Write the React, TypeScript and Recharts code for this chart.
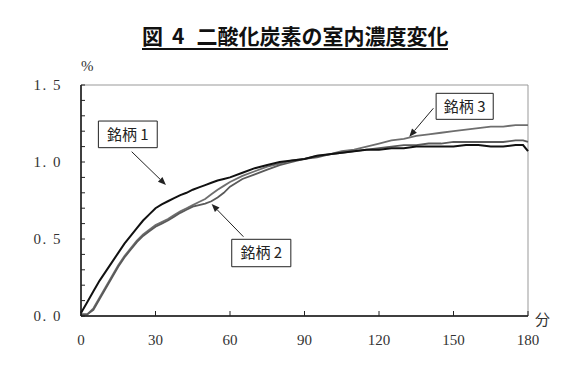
import React from 'react';
import { LineChart, Line, XAxis, YAxis, ReferenceArea, ReferenceLine } from 'recharts';

// elapsed time (min) and CO2 concentration (%)
const minutes = [
  0, 2.5, 5, 7.5, 10, 12.5, 15, 17.5, 20, 22.5, 25, 27.5, 30, 32.5, 35, 37.5,
  40, 42.5, 45, 47.5, 50, 52.5, 55, 57.5, 60, 65, 70, 75, 80, 85, 90, 95, 100,
  105, 110, 115, 120, 125, 130, 135, 140, 145, 150, 155, 160, 165, 170, 175,
  178, 180,
];
const brand1 = [
  0.02, 0.09, 0.16, 0.23, 0.29, 0.35, 0.41, 0.47, 0.52, 0.57, 0.62, 0.66, 0.7,
  0.725, 0.745, 0.765, 0.785, 0.8, 0.82, 0.835, 0.85, 0.865, 0.88, 0.89, 0.9,
  0.93, 0.96, 0.98, 1.0, 1.01, 1.02, 1.04, 1.05, 1.06, 1.07, 1.08, 1.08, 1.09,
  1.09, 1.1, 1.1, 1.1, 1.1, 1.11, 1.11, 1.1, 1.1, 1.11, 1.11, 1.07,
];
const brand2 = [
  0.01, 0.01, 0.04, 0.11, 0.18, 0.25, 0.32, 0.38, 0.43, 0.48, 0.52, 0.55, 0.58,
  0.6, 0.62, 0.645, 0.67, 0.69, 0.71, 0.72, 0.73, 0.745, 0.77, 0.8, 0.84, 0.89,
  0.92, 0.95, 0.98, 1.0, 1.02, 1.03, 1.05, 1.06, 1.07, 1.08, 1.09, 1.1, 1.11,
  1.11, 1.12, 1.12, 1.13, 1.13, 1.13, 1.13, 1.13, 1.14, 1.14, 1.13,
];
const brand3 = [
  0.01, 0.01, 0.05, 0.12, 0.19, 0.26, 0.33, 0.39, 0.44, 0.49, 0.53, 0.56, 0.59,
  0.61, 0.63, 0.655, 0.68, 0.7, 0.72, 0.74, 0.76, 0.79, 0.82, 0.845, 0.87, 0.91,
  0.94, 0.97, 0.99, 1.01, 1.02, 1.04, 1.05, 1.07, 1.08, 1.1, 1.12, 1.14, 1.15,
  1.17, 1.18, 1.19, 1.2, 1.21, 1.22, 1.23, 1.23, 1.24, 1.24, 1.24,
];

const xTicks = [0, 30, 60, 90, 120, 150, 180];
const yTicks = [0, 0.1, 0.2, 0.3, 0.4, 0.5, 0.6, 0.7, 0.8, 0.9, 1.0, 1.1, 1.2, 1.3, 1.4, 1.5];

// callout boxes and arrows, in data units
const labelBoxes = [
  { text: '銘柄 1', x1: 7.0, x2: 30.7, y1: 1.093, y2: 1.266 },
  { text: '銘柄 2', x1: 60.7, x2: 84.5, y1: 0.32, y2: 0.498 },
  { text: '銘柄 3', x1: 143.0, x2: 166.0, y1: 1.277, y2: 1.446 },
];
const arrows = [
  { from: { x: 20.4, y: 1.067 }, to: { x: 34.2, y: 0.851 } },
  { from: { x: 65.4, y: 0.515 }, to: { x: 52.6, y: 0.727 } },
  { from: { x: 141.9, y: 1.349 }, to: { x: 132.2, y: 1.164 } },
];

const data = minutes.map((t, i) => ({ t, b1: brand1[i], b2: brand2[i], b3: brand3[i] }));

const serif = '"Liberation Serif", "DejaVu Serif", serif';
const jp = '"Noto Sans CJK JP", sans-serif';

function YTick(props: any) {
  const { x, y, payload } = props;
  const v = payload.value;
  const major = Math.abs(v * 2 - Math.round(v * 2)) < 1e-6;
  return (
    <g>
      <line x1={x} y1={y} x2={x + 4} y2={y} stroke="#222" strokeWidth={1} />
      {major && (
        <text x={x - 19} y={y} dy={5} textAnchor="end" fontFamily={serif} fontSize={15}
          letterSpacing={1.5} fill="#333">
          {v.toFixed(1).replace('.', '. ')}
        </text>
      )}
    </g>
  );
}

function XTick(props: any) {
  const { x, y, payload } = props;
  return (
    <g>
      <line x1={x} y1={y} x2={x} y2={y - 5} stroke="#222" strokeWidth={1} />
      <text x={x} y={y + 29} textAnchor="middle" fontFamily={serif} fontSize={15} fill="#333">
        {payload.value}
      </text>
    </g>
  );
}

function Arrow(props: any) {
  const { x1, y1, x2, y2 } = props;
  const a = Math.atan2(y2 - y1, x2 - x1);
  const len = 8;
  const w = 3.2;
  const bx = x2 - len * Math.cos(a);
  const by = y2 - len * Math.sin(a);
  const px = -Math.sin(a) * w;
  const py = Math.cos(a) * w;
  return (
    <g>
      <line x1={x1} y1={y1} x2={bx} y2={by} stroke="#222" strokeWidth={1} />
      <polygon points={`${x2},${y2} ${bx + px},${by + py} ${bx - px},${by - py}`} fill="#222" />
    </g>
  );
}

export default function App() {
  return (
    <div style={{ position: 'absolute', left: 0, top: 0, width: 582, height: 371, background: '#fff' }}>
      <div
        style={{
          position: 'absolute', left: 142, top: 25, fontFamily: jp, fontWeight: 700,
          fontSize: 21, lineHeight: '21px', color: '#111', whiteSpace: 'nowrap',
          borderBottom: '2px solid #111', paddingBottom: 2,
        }}
      >
        <span>図</span>
        <span style={{ marginLeft: 9 }}>4</span>
        <span style={{ marginLeft: 12 }}>二酸化炭素の室内濃度変化</span>
      </div>
      <div style={{ position: 'absolute', left: 81, top: 58, fontFamily: serif, fontSize: 15, color: '#333' }}>%</div>
      <div style={{ position: 'absolute', left: 535, top: 308, fontFamily: jp, fontSize: 15, color: '#333' }}>分</div>
      <LineChart width={582} height={371} data={data} margin={{ top: 85, right: 54, bottom: 0, left: 0 }}>
        <ReferenceArea x1={0} x2={180} y1={0} y2={1.5} fill="none" stroke="#999" strokeWidth={1} />
        <XAxis
          dataKey="t" type="number" domain={[0, 180]} ticks={xTicks} interval={0}
          height={55} tickSize={0} tickMargin={0} tickLine={false}
          axisLine={{ stroke: '#111', strokeWidth: 1.5 }} tick={<XTick />}
        />
        <YAxis
          type="number" domain={[0, 1.5]} ticks={yTicks} interval={0}
          width={81} tickSize={0} tickMargin={0} tickLine={false}
          axisLine={{ stroke: '#111', strokeWidth: 1.5 }} tick={<YTick />}
        />
        <Line type="linear" dataKey="b3" stroke="#6e6e6e" strokeWidth={1.8} dot={false} isAnimationActive={false} />
        <Line type="linear" dataKey="b2" stroke="#5a5a5a" strokeWidth={1.8} dot={false} isAnimationActive={false} />
        <Line type="linear" dataKey="b1" stroke="#111" strokeWidth={2} dot={false} isAnimationActive={false} />
        {arrows.map((a, i) => (
          <ReferenceLine key={'a' + i} segment={[a.from, a.to]} shape={<Arrow />} />
        ))}
        {labelBoxes.map((b) => (
          <ReferenceArea
            key={b.text} x1={b.x1} x2={b.x2} y1={b.y1} y2={b.y2}
            fill="#fff" fillOpacity={1} stroke="#222" strokeWidth={1}
            label={{ value: b.text, position: 'center', fontFamily: jp, fontSize: 15, fill: '#222' }}
          />
        ))}
      </LineChart>
    </div>
  );
}
